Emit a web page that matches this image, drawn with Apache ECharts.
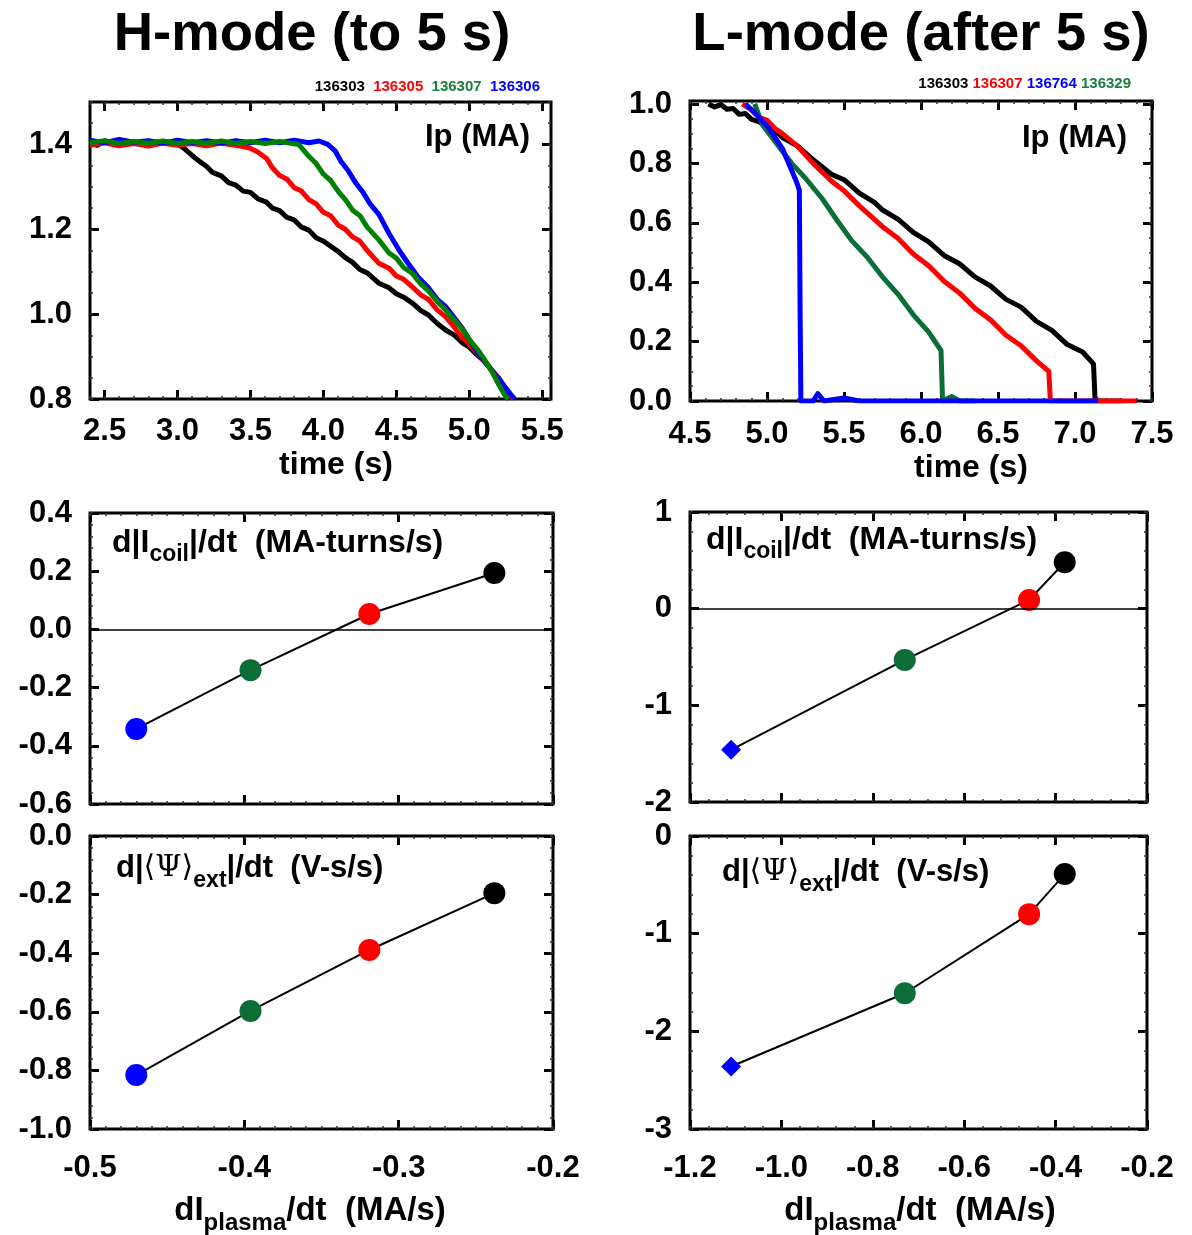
<!DOCTYPE html>
<html>
<head>
<meta charset="utf-8">
<script src="https://cdn.jsdelivr.net/npm/echarts@6/dist/echarts.min.js"></script>
<style>
  html, body { margin: 0; padding: 0; background: #fff; }
  #chart { width: 1192px; height: 1235px; }
</style>
</head>
<body>
<div id="chart"></div>
<script>
// ---- shot colours ----
const COL = { k: '#000000', r: '#ff0000', g: '#008000', g2: '#0b6e38', b: '#0000ff' };

// ---- H-mode plasma current, [time (s), Ip (MA)] ----
const ipH_136303 = [[2.40,1.403],[2.45,1.398],[2.5,1.408],[2.6,1.400],[2.7,1.406],[2.8,1.402],[2.9,1.407],[3.0,1.401],[3.04,1.392],[3.1,1.374],[3.15,1.36],[3.2,1.348],[3.24,1.334],[3.3,1.326],[3.35,1.31],[3.4,1.304],[3.45,1.29],[3.5,1.287],[3.55,1.272],[3.61,1.264],[3.65,1.25],[3.7,1.244],[3.75,1.228],[3.8,1.222],[3.85,1.205],[3.9,1.198],[3.95,1.18],[4.0,1.172],[4.05,1.16],[4.1,1.148],[4.15,1.133],[4.2,1.122],[4.25,1.105],[4.3,1.097],[4.38,1.073],[4.45,1.062],[4.5,1.048],[4.55,1.04],[4.61,1.026],[4.67,1.008],[4.72,0.998],[4.78,0.978],[4.84,0.962],[4.9,0.95],[4.95,0.933],[5.0,0.922],[5.05,0.905],[5.1,0.89],[5.15,0.87],[5.2,0.85],[5.25,0.825],[5.29,0.80]];
const ipH_136305 = [[2.40,1.398],[2.5,1.404],[2.6,1.397],[2.7,1.402],[2.8,1.396],[2.9,1.403],[3.0,1.398],[3.1,1.402],[3.2,1.397],[3.3,1.403],[3.4,1.398],[3.49,1.392],[3.55,1.382],[3.61,1.367],[3.65,1.345],[3.70,1.327],[3.75,1.318],[3.8,1.298],[3.85,1.29],[3.9,1.27],[3.95,1.26],[4.0,1.24],[4.05,1.232],[4.1,1.21],[4.15,1.20],[4.2,1.182],[4.25,1.172],[4.3,1.15],[4.38,1.12],[4.45,1.108],[4.5,1.09],[4.55,1.082],[4.61,1.064],[4.67,1.045],[4.72,1.035],[4.78,1.01],[4.84,0.993],[4.9,0.968],[4.95,0.945],[5.0,0.93],[5.05,0.91],[5.1,0.89],[5.15,0.87],[5.2,0.848],[5.25,0.825],[5.3,0.80]];
const ipH_136306 = [[2.40,1.410],[2.5,1.404],[2.6,1.412],[2.7,1.405],[2.8,1.409],[2.9,1.403],[3.0,1.410],[3.1,1.404],[3.2,1.409],[3.3,1.403],[3.4,1.409],[3.5,1.404],[3.6,1.410],[3.7,1.404],[3.8,1.410],[3.9,1.404],[3.97,1.408],[4.03,1.40],[4.08,1.385],[4.12,1.36],[4.17,1.338],[4.22,1.31],[4.27,1.288],[4.32,1.26],[4.38,1.235],[4.45,1.19],[4.52,1.15],[4.58,1.12],[4.65,1.087],[4.72,1.062],[4.78,1.035],[4.84,1.017],[4.9,0.99],[4.95,0.968],[5.0,0.94],[5.06,0.908],[5.12,0.883],[5.18,0.855],[5.24,0.83],[5.31,0.80]];
const ipH_136307 = [[2.40,1.404],[2.5,1.409],[2.6,1.402],[2.7,1.407],[2.8,1.403],[2.9,1.408],[3.0,1.402],[3.1,1.407],[3.2,1.403],[3.3,1.408],[3.4,1.402],[3.5,1.407],[3.6,1.402],[3.7,1.407],[3.77,1.403],[3.83,1.40],[3.9,1.372],[3.95,1.355],[4.0,1.33],[4.05,1.315],[4.1,1.29],[4.15,1.27],[4.2,1.245],[4.25,1.232],[4.3,1.205],[4.38,1.175],[4.45,1.144],[4.5,1.132],[4.55,1.11],[4.61,1.096],[4.67,1.07],[4.72,1.055],[4.78,1.03],[4.84,1.009],[4.9,0.985],[4.95,0.966],[5.0,0.94],[5.06,0.915],[5.1,0.895],[5.15,0.868],[5.2,0.835],[5.25,0.805],[5.27,0.80]];

// ---- L-mode plasma current, [time (s), Ip (MA)] ----
const ipL_136303 = [[4.62,1.0],[4.66,0.99],[4.7,0.998],[4.74,0.982],[4.78,0.985],[4.82,0.965],[4.86,0.968],[4.9,0.948],[4.95,0.94],[5.0,0.92],[5.05,0.912],[5.1,0.887],[5.2,0.858],[5.3,0.812],[5.42,0.763],[5.5,0.745],[5.6,0.70],[5.7,0.668],[5.75,0.643],[5.85,0.612],[5.95,0.568],[6.05,0.536],[6.15,0.49],[6.25,0.462],[6.35,0.418],[6.45,0.388],[6.55,0.343],[6.65,0.316],[6.75,0.268],[6.85,0.238],[6.95,0.19],[7.05,0.165],[7.12,0.125],[7.13,0.01],[7.15,0.0],[7.3,0.0]];
const ipL_136307 = [[4.84,1.0],[4.9,0.98],[4.95,0.955],[5.0,0.945],[5.05,0.918],[5.10,0.90],[5.2,0.857],[5.3,0.80],[5.42,0.74],[5.5,0.708],[5.6,0.657],[5.75,0.587],[5.85,0.548],[5.95,0.495],[6.05,0.455],[6.15,0.403],[6.25,0.364],[6.35,0.312],[6.45,0.274],[6.55,0.222],[6.65,0.186],[6.75,0.135],[6.83,0.10],[6.84,0.0],[7.0,0.0],[7.4,0.0]];
const ipL_136329 = [[4.92,1.0],[4.97,0.93],[5.05,0.875],[5.16,0.80],[5.25,0.75],[5.36,0.68],[5.45,0.612],[5.55,0.54],[5.65,0.485],[5.75,0.418],[5.85,0.36],[5.95,0.29],[6.05,0.232],[6.13,0.17],[6.14,0.0],[6.2,0.015],[6.25,0.0],[6.35,0.0]];
const ipL_136764 = [[4.86,1.0],[4.92,0.97],[5.01,0.92],[5.10,0.85],[5.19,0.74],[5.21,0.71],[5.215,0.3],[5.22,0.0],[5.3,0.0],[5.33,0.025],[5.37,0.0],[5.5,0.01],[5.6,0.0],[6.0,0.0],[6.5,0.0],[7.0,0.0],[7.15,0.0]];

// ---- ramp-down rate scans (order: 136306, 136307, 136305, 136303) ----
const hRate = [-0.470, -0.396, -0.319, -0.238];
const hCoil = [-0.342, -0.140, 0.053, 0.194];
const hPsi  = [-0.816, -0.597, -0.389, -0.195];
const hColors = [COL.b, COL.g2, COL.r, COL.k];
const hSymbols = ['circle', 'circle', 'circle', 'circle'];
// (order: 136764, 136329, 136307, 136303)
const lRate = [-1.110, -0.730, -0.458, -0.380];
const lCoil = [-1.46, -0.53, 0.09, 0.48];
const lPsi  = [-2.36, -1.61, -0.80, -0.39];
const lColors = [COL.b, COL.g2, COL.r, COL.k];
const lSymbols = ['diamond', 'circle', 'circle', 'circle'];

// ---- tick labels ----
const tlXTicks = [2.5, 3.0, 3.5, 4.0, 4.5, 5.0, 5.5];
const tlYTicks = [0.8, 1.0, 1.2, 1.4];
const trXTicks = [4.5, 5.0, 5.5, 6.0, 6.5, 7.0, 7.5];
const trYTicks = [0.0, 0.2, 0.4, 0.6, 0.8, 1.0];
const hRateTicks = [-0.5, -0.4, -0.3, -0.2];
const lRateTicks = [-1.2, -1.0, -0.8, -0.6, -0.4, -0.2];
const hCoilTicks = [-0.6, -0.4, -0.2, 0.0, 0.2, 0.4];
const lCoilTicks = [-2, -1, 0, 1];
const hPsiTicks = [-1.0, -0.8, -0.6, -0.4, -0.2, 0.0];
const lPsiTicks = [-3, -2, -1, 0];

const FONT = '"Liberation Sans", Arial, sans-serif';

function steps(a, b, step) {
  const out = [];
  const n = Math.round((b - a) / step);
  for (let i = 0; i <= n; i++) out.push(+(a + i * step).toFixed(6));
  return out;
}

const xAxes = [], yAxes = [], grids = [];
const mainX = [], mainY = [];

// Four axes per direction: labelled major, minor, mirrored major, mirrored minor
function addAxes(list, mains, gi, dim, cfg) {
  const posA = dim === 'x' ? 'bottom' : 'left';
  const posB = dim === 'x' ? 'top' : 'right';
  const base = (pos, ticks, len, w, col, label) => ({
    type: 'value', gridIndex: gi, position: pos, min: cfg.min, max: cfg.max,
    axisLine: { show: false, onZero: false }, splitLine: { show: false },
    axisTick: { show: true, inside: true, length: len, customValues: ticks, lineStyle: { color: col, width: w } },
    axisLabel: label ? {
      show: true, customValues: cfg.majors, margin: cfg.margin,
      fontFamily: FONT, fontWeight: 'bold', fontSize: 31, color: '#000',
      formatter: v => v.toFixed(cfg.dec)
    } : { show: false },
    silent: true
  });
  const minors = steps(cfg.minorStart, cfg.max, cfg.minor).filter(v => v >= cfg.min - 1e-9);
  mains.push(list.length);
  list.push(base(posA, cfg.majors, 9, 3, '#000', cfg.labels));
  list.push(base(posA, minors, 3, 1.5, '#333', false));
  list.push(base(posB, cfg.majors, 9, 3, '#000', false));
  list.push(base(posB, minors, 3, 1.5, '#333', false));
}

const panels = [
  { grid: { left: 90, top: 102, width: 461, height: 297 },
    x: { min: 2.4, max: 5.56, majors: tlXTicks, minor: 0.1, minorStart: 2.4, dec: 1, labels: true, margin: 17 },
    y: { min: 0.8, max: 1.5, majors: tlYTicks, minor: 0.05, minorStart: 0.8, dec: 1, labels: true, margin: 18 } },
  { grid: { left: 690, top: 101, width: 462, height: 300 },
    x: { min: 4.5, max: 7.5, majors: trXTicks, minor: 0.1, minorStart: 4.5, dec: 1, labels: true, margin: 18 },
    y: { min: 0.0, max: 1.01, majors: trYTicks, minor: 0.05, minorStart: 0.0, dec: 1, labels: true, margin: 18 } },
  { grid: { left: 90, top: 513, width: 463, height: 291 },
    x: { min: -0.5, max: -0.2, majors: hRateTicks, minor: 0.01, minorStart: -0.5, dec: 1, labels: false, margin: 20 },
    y: { min: -0.6, max: 0.4, majors: hCoilTicks, minor: 0.04, minorStart: -0.6, dec: 1, labels: true, margin: 18 } },
  { grid: { left: 690, top: 512, width: 457, height: 290 },
    x: { min: -1.2, max: -0.2, majors: lRateTicks, minor: 0.04, minorStart: -1.2, dec: 1, labels: false, margin: 20 },
    y: { min: -2, max: 1, majors: lCoilTicks, minor: 0.2, minorStart: -2, dec: 0, labels: true, margin: 18 } },
  { grid: { left: 90, top: 836, width: 463, height: 293 },
    x: { min: -0.5, max: -0.2, majors: hRateTicks, minor: 0.01, minorStart: -0.5, dec: 1, labels: true, margin: 24 },
    y: { min: -1.0, max: 0.0, majors: hPsiTicks, minor: 0.04, minorStart: -1.0, dec: 1, labels: true, margin: 18 } },
  { grid: { left: 690, top: 836, width: 457, height: 293 },
    x: { min: -1.2, max: -0.2, majors: lRateTicks, minor: 0.04, minorStart: -1.2, dec: 1, labels: true, margin: 24 },
    y: { min: -3, max: 0, majors: lPsiTicks, minor: 0.2, minorStart: -3, dec: 0, labels: true, margin: 18 } }
];

panels.forEach((p, gi) => {
  grids.push(Object.assign({ show: true, borderColor: '#000', borderWidth: 3, backgroundColor: 'transparent' }, p.grid));
  addAxes(xAxes, mainX, gi, 'x', p.x);
  addAxes(yAxes, mainY, gi, 'y', p.y);
});

const series = [];
function trace(gi, data, color, z) {
  series.push({
    type: 'line', xAxisIndex: mainX[gi], yAxisIndex: mainY[gi], data: data,
    showSymbol: false, symbol: 'none', z: z, silent: true,
    lineStyle: { color: color, width: 5, join: 'round' }
  });
}
// H-mode traces
trace(0, ipH_136303, COL.k, 2);
trace(0, ipH_136305, COL.r, 3);
trace(0, ipH_136306, COL.b, 4);
trace(0, ipH_136307, COL.g, 5);
// L-mode traces
trace(1, ipL_136303, COL.k, 2);
trace(1, ipL_136307, COL.r, 3);
trace(1, ipL_136329, COL.g2, 4);
trace(1, ipL_136764, COL.b, 5);

function scan(gi, xs, ys, colors, symbols, zeroLine) {
  const pts = xs.map((x, i) => [x, ys[i]]);
  const s = {
    type: 'line', xAxisIndex: mainX[gi], yAxisIndex: mainY[gi], data: pts,
    symbol: 'none', showSymbol: false, silent: true, z: 3,
    lineStyle: { color: '#000', width: 2 }
  };
  if (zeroLine) {
    s.markLine = {
      silent: true, symbol: ['none', 'none'], label: { show: false },
      lineStyle: { color: '#000', width: 1.5, type: 'solid' },
      data: [{ yAxis: 0 }]
    };
  }
  series.push(s);
  series.push({
    type: 'scatter', xAxisIndex: mainX[gi], yAxisIndex: mainY[gi], silent: true, z: 4,
    data: pts.map((p, i) => ({
      value: p, symbol: symbols[i], symbolSize: symbols[i] === 'diamond' ? 20 : 22,
      itemStyle: { color: colors[i], opacity: 1 }
    }))
  });
}
scan(2, hRate, hCoil, hColors, hSymbols, true);
scan(3, lRate, lCoil, lColors, lSymbols, true);
scan(4, hRate, hPsi, hColors, hSymbols, false);
scan(5, lRate, lPsi, lColors, lSymbols, false);

// ---- free text ----
const bold = (size, extra) => Object.assign({ fontFamily: FONT, fontWeight: 'bold', fontSize: size, fill: '#000' }, extra || {});
const shot = c => ({ fill: c, color: c, fontFamily: FONT, fontWeight: 'bold', fontSize: 15 });
const shotRich = { k: shot(COL.k), r: shot(COL.r), g: shot('#17803c'), b: shot(COL.b) };
function labelRich(main, sub) {
  return {
    m: { fontFamily: FONT, fontWeight: 'bold', fontSize: main, lineHeight: main + 2, verticalAlign: 'top' },
    s: { fontFamily: FONT, fontWeight: 'bold', fontSize: sub, lineHeight: sub, padding: [Math.round(main * 0.5), 0, 0, 0], verticalAlign: 'top' },
    p: { fontFamily: '"DejaVu Serif", "Liberation Serif", serif', fontWeight: 'normal', fontSize: main - 1, lineHeight: main + 2, verticalAlign: 'top' }
  };
}
function txt(x, y, text, style) {
  return { type: 'text', x: x, y: y, silent: true, z: 100, style: Object.assign({ text: text }, style) };
}
const coilText = '{m|d|I}{s|coil}{m||/dt  (MA-turns/s)}';
const psiText = '{m|d|}{p|\u27E8\u03A8\u27E9}{s|ext}{m||/dt  (V-s/s)}';
const rateText = '{m|dI}{s|plasma}{m|/dt  (MA/s)}';

const graphics = [
  txt(312, 35, 'H-mode (to 5 s)', bold(54.5, { align: 'center', verticalAlign: 'middle' })),
  txt(921, 35, 'L-mode (after 5 s)', bold(54.5, { align: 'center', verticalAlign: 'middle' })),
  txt(540, 87, '{k|136303}  {r|136305}  {g|136307}  {b|136306}', { align: 'right', verticalAlign: 'middle', rich: shotRich, fontSize: 15 }),
  txt(1131, 84, '{k|136303} {r|136307} {b|136764} {g|136329}', { align: 'right', verticalAlign: 'middle', rich: shotRich, fontSize: 15 }),
  txt(530, 137, 'Ip (MA)', bold(31, { align: 'right', verticalAlign: 'middle' })),
  txt(1127, 138, 'Ip (MA)', bold(31, { align: 'right', verticalAlign: 'middle' })),
  txt(336, 465, 'time (s)', bold(32, { align: 'center', verticalAlign: 'middle' })),
  txt(971, 468, 'time (s)', bold(32, { align: 'center', verticalAlign: 'middle' })),
  txt(112, 527, coilText, { rich: labelRich(32, 23), align: 'left', verticalAlign: 'top' }),
  txt(706, 524, coilText, { rich: labelRich(32, 23), align: 'left', verticalAlign: 'top' }),
  txt(116, 853, psiText, { rich: labelRich(31, 23), align: 'left', verticalAlign: 'top' }),
  txt(722, 857, psiText, { rich: labelRich(31, 23), align: 'left', verticalAlign: 'top' }),
  txt(310, 1194, rateText, { rich: labelRich(33, 24), align: 'center', verticalAlign: 'top' }),
  txt(920, 1194, rateText, { rich: labelRich(33, 24), align: 'center', verticalAlign: 'top' })
];

const chart = echarts.init(document.getElementById('chart'), null, { renderer: 'canvas' });
chart.setOption({
  animation: false,
  backgroundColor: '#ffffff',
  grid: grids,
  xAxis: xAxes,
  yAxis: yAxes,
  series: series,
  graphic: { elements: graphics }
});
</script>
</body>
</html>
